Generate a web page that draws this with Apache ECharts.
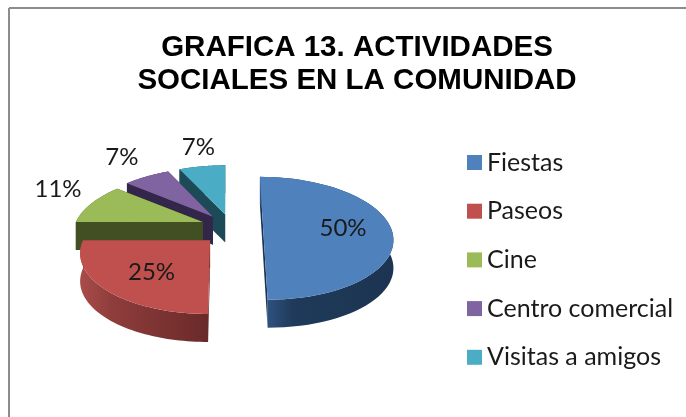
<!DOCTYPE html>
<html><head><meta charset="utf-8">
<style>html,body{margin:0;padding:0;background:#fff}#c{width:686px;height:417px}</style>
<script src="https://cdn.jsdelivr.net/npm/echarts@6/dist/echarts.min.js"></script>
</head><body><div id="c"></div>
<script>
const categories = ['Fiestas','Paseos','Cine','Centro comercial','Visitas a amigos'];
const values = [50,25,11,7,7];
const titleText = 'GRAFICA 13. ACTIVIDADES\nSOCIALES EN LA COMUNIDAD';
const topColors = ['#4f81bd','#c0504d','#9bbb59','#8064a2','#4bacc6'];
const wallStops = [
  ['#33588a','#1f3a5a','#1c3451'],
  ['#a94c49','#8e3d3b','#6a2a2a'],
  ['#414f22','#414f22','#414f22'],
  ['#32264a','#32264a','#32264a'],
  ['#1d4a57','#1d4a57','#1d4a57']
];
// pie layout
const cx=232, cy=226, rx=127, ry=59, persp=0.2, explode=31, flatFront=0.65, flatBack=0.38, depth=28, vanishX=226;
// label placement: radial factor and extra lift for each slice
const labelR=[0.63,0.59,1.33,1.46,1.2];
const labelLift=[-2,-5,8,4,11];

const total=values.reduce((a,b)=>a+b,0);
const starts=[];values.reduce((acc,v,i)=>{starts[i]=acc;return acc+v;},0);
const toAng=v=>v/total*Math.PI*2;

function geom(i){
  const a=toAng(starts[i]), b=toAng(starts[i]+values[i]), m=(a+b)/2;
  const c=Math.cos(m);
  const ax=cx+explode*Math.sin(m), ay=cy-explode*(c>0?flatBack:flatFront)*c;
  const pt=(t,f,dy)=>{
    const s=1/(1+persp*Math.cos(t)*f);
    return [ax+rx*Math.sin(t)*f*s+(ax-vanishX)*0.5*(s-1), ay-ry*Math.cos(t)*f*s+(dy||0)];
  };
  return {a,b,m,ax,ay,pt};
}
function renderSlice(i){
  return function(){
    const g=geom(i), n=60, arcT=[], arcB=[];
    for(let k=0;k<=n;k++){const t=g.a+(g.b-g.a)*k/n;arcT.push(g.pt(t,1,0));arcB.push(g.pt(t,1,depth));}
    const apexT=[g.ax,g.ay], apexB=[g.ax,g.ay+depth];
    const stops=wallStops[i];
    const wallFill=new echarts.graphic.LinearGradient(0,0,1,0,[
      {offset:0,color:stops[0]},{offset:0.25,color:stops[1]},{offset:1,color:stops[2]}]);
    const dark=stops[2];
    const face=(p)=>({type:'polygon',shape:{points:[apexT,p[0],p[1],apexB]},style:{fill:dark}});
    const labelPt=g.pt(g.m,labelR[i],0);
    return {type:'group',children:[
      face([arcT[0],arcB[0]]),
      face([arcT[n],arcB[n]]),
      {type:'polygon',shape:{points:arcT.concat(arcB.slice().reverse())},style:{fill:wallFill}},
      {type:'polygon',shape:{points:[apexT].concat(arcT)},style:{fill:topColors[i]}},
      {type:'text',z2:50,style:{x:labelPt[0],y:labelPt[1]-labelLift[i],text:values[i]+'%',
        fill:'#1a1a1a',font:'24px Lato',align:'center',verticalAlign:'middle'}}
    ]};
  };
}
const chart=echarts.init(document.getElementById('c'),null,{renderer:'canvas'});
const order=categories.map((_,i)=>i).reverse();
chart.setOption({
  animation:false,
  backgroundColor:'#ffffff',
  color:topColors,
  title:{text:titleText,left:352,top:26,textAlign:'center',
    textStyle:{fontFamily:'Liberation Sans',fontWeight:'bold',fontSize:29.5,lineHeight:33,color:'#000'}},
  legend:{orient:'vertical',left:462,top:145,icon:'rect',itemWidth:15,itemHeight:15,itemGap:23.7,
    data:categories,selectedMode:false,
    textStyle:{fontFamily:'Lato',fontSize:25,color:'#1a1a1a'}},
  graphic:[
    {type:'line',shape:{x1:9,y1:8,x2:686,y2:8},style:{stroke:'#8c8c8c',lineWidth:2}},
    {type:'line',shape:{x1:9,y1:8,x2:9,y2:417},style:{stroke:'#8c8c8c',lineWidth:2}}
  ],
  series:order.map(i=>({
    type:'custom',name:categories[i],coordinateSystem:'none',
    itemStyle:{color:topColors[i]},
    data:[values[i]],renderItem:renderSlice(i),silent:true
  }))
});
</script></body></html>
